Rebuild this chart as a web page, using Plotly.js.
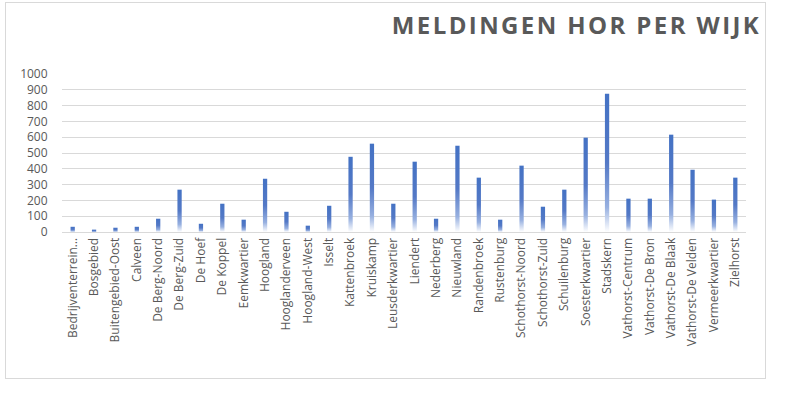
<!DOCTYPE html>
<html>
<head>
<meta charset="utf-8">
<script src="https://cdn.plot.ly/plotly-3.0.1.min.js"></script>
<style>
  html, body { margin: 0; padding: 0; background: #ffffff; }
  #frame { position: absolute; left: 5px; top: 2px; width: 761px; height: 377px; border: 1px solid #d9d9d9; box-sizing: border-box; }
  #chart { width: 759px; height: 375px; }
</style>
</head>
<body>
<div id="frame"><div id="chart"></div></div>
<script>
const wijken = ["Bedrijventerrein…","Bosgebied","Buitengebied-Oost","Calveen","De Berg-Noord","De Berg-Zuid","De Hoef","De Koppel","Eemkwartier","Hoogland","Hooglanderveen","Hoogland-West","Isselt","Kattenbroek","Kruiskamp","Leusderkwartier","Liendert","Nederberg","Nieuwland","Randenbroek","Rustenburg","Schothorst-Noord","Schothorst-Zuid","Schuilenburg","Soesterkwartier","Stadskern","Vathorst-Centrum","Vathorst-De Bron","Vathorst-De Blaak","Vathorst-De Velden","Vermeerkwartier","Zielhorst"];
const meldingen = [33,15,27,33,84,268,52,179,78,337,128,40,166,476,559,179,445,84,546,344,78,420,160,268,597,875,211,211,616,394,205,344];
const yTicks = [0,100,200,300,400,500,600,700,800,900,1000];

const trace = {
  type: 'bar',
  x: wijken,
  y: meldingen,
  marker: { color: '#4472C4', line: { width: 0 } },
  hoverinfo: 'x+y'
};

const layout = {
  width: 759, height: 375,
  margin: { l: 56, r: 19, t: 71, b: 146 },
  paper_bgcolor: '#ffffff',
  plot_bgcolor: '#ffffff',
  bargap: 0.8,
  showlegend: false,
  title: {
    text: '<b>MELDINGEN HOR PER WIJK</b>',
    font: { family: 'Open Sans', size: 24, color: '#595959' },
    xref: 'container', x: 0.995, xanchor: 'right',
    yref: 'container', y: 0.941, yanchor: 'middle'
  },
  xaxis: {
    type: 'category',
    tickangle: -90,
    tickfont: { family: 'Open Sans', size: 12, color: '#595959' },
    showgrid: false,
    showline: true, linecolor: '#d9d9d9', linewidth: 1,
    ticks: '',
    fixedrange: true
  },
  yaxis: {
    range: [0, 1000],
    tickvals: yTicks,
    ticktext: yTicks.map(String),
    tickfont: { family: 'Open Sans', size: 12, color: '#595959' },
    showgrid: true, gridcolor: '#d9d9d9', gridwidth: 1,
    zeroline: false, showline: false,
    ticks: 'outside', ticklen: 11, tickcolor: 'rgba(255,255,255,0)',
    fixedrange: true
  }
};

Plotly.newPlot('chart', [trace], layout, { staticPlot: true, displayModeBar: false }).then(function (gd) {
  const svgNS = 'http://www.w3.org/2000/svg';
  const svg = gd.querySelector('svg.main-svg');
  let defs = svg.querySelector('defs');
  if (!defs) { defs = document.createElementNS(svgNS, 'defs'); svg.insertBefore(defs, svg.firstChild); }
  const grad = document.createElementNS(svgNS, 'linearGradient');
  grad.setAttribute('id', 'barGrad');
  grad.setAttribute('x1', '0'); grad.setAttribute('y1', '0');
  grad.setAttribute('x2', '0'); grad.setAttribute('y2', '1');
  [['0', '#4472C4'], ['0.5', '#5479c6'], ['0.82', '#97b0e0'], ['1', '#ffffff']].forEach(function (s) {
    const st = document.createElementNS(svgNS, 'stop');
    st.setAttribute('offset', s[0]);
    st.setAttribute('stop-color', s[1]);
    grad.appendChild(st);
  });
  defs.appendChild(grad);
  gd.querySelectorAll('.bars .point path').forEach(function (p) { p.style.fill = 'url(#barGrad)'; });
  const t = gd.querySelector('.gtitle');
  if (t) { t.style.letterSpacing = '2.4px'; }
});
</script>
</body>
</html>
